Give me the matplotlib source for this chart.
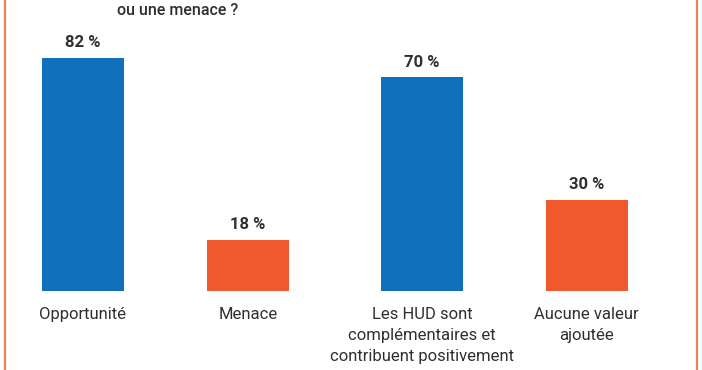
import matplotlib
matplotlib.use("Agg")
import matplotlib.pyplot as plt
from matplotlib.lines import Line2D

plt.rcParams['font.family'] = ['Roboto', 'DejaVu Sans']

left_categories = ["Opportunité", "Menace"]
left_values = [82, 18]
right_categories = ["Les HUD sont\ncomplémentaires et\ncontribuent positivement", "Aucune valeur\najoutée"]
right_values = [70, 30]
title_text = "ou une menace ?"

BLUE = "#1170BC"
ORANGE = "#EF592B"
TEXT = "#2f2f2f"
BORDER = "#E3864F"

W, H = 702, 370
fig = plt.figure(figsize=(W / 100, H / 100), dpi=100)
fig.patch.set_facecolor("white")

def px_axes(x0, x1, y_bottom, height_px):
    return fig.add_axes([x0 / W, 1 - y_bottom / H, (x1 - x0) / W, height_px / H])

base = 291
axL = px_axes(0.5, 330.5, base, 100 * 2.84)
axL.set_ylim(0, 100)
axR = px_axes(340, 669, base, 90 * 3.05)
axR.set_ylim(0, 90)

for ax, cats, vals in [(axL, left_categories, left_values), (axR, right_categories, right_values)]:
    xs = list(range(len(vals)))
    bars = ax.bar(xs, vals, width=0.5, color=[BLUE, ORANGE])
    ax.set_xlim(-0.5, 1.5)
    for b, v in zip(bars, vals):
        ax.annotate(f"{v} %", (b.get_x() + b.get_width() / 2, v), xytext=(0, 5.5),
                    textcoords="offset points", ha="center", va="bottom",
                    fontsize=12, fontweight="bold", color=TEXT)
    ax.set_xticks(xs)
    ax.set_xticklabels(cats, fontsize=12, color=TEXT, linespacing=1.5, va="top")
    ax.tick_params(axis="x", length=0, pad=11.5)
    ax.set_yticks([])
    for s in ax.spines.values():
        s.set_visible(False)
    ax.patch.set_alpha(0)

fig.text(178 / W, 1 - 10.5 / H, title_text, ha="center", va="center",
         fontsize=11.5, fontweight="medium", color=TEXT)

fig.add_artist(Line2D([4.5 / W, 4.5 / W], [0, 1], color=BORDER, lw=1.6, transform=fig.transFigure))
fig.add_artist(Line2D([696.5 / W, 696.5 / W], [0, 1], color=BORDER, lw=1.6, transform=fig.transFigure))

fig.savefig("out.png", dpi=100, facecolor="white")
